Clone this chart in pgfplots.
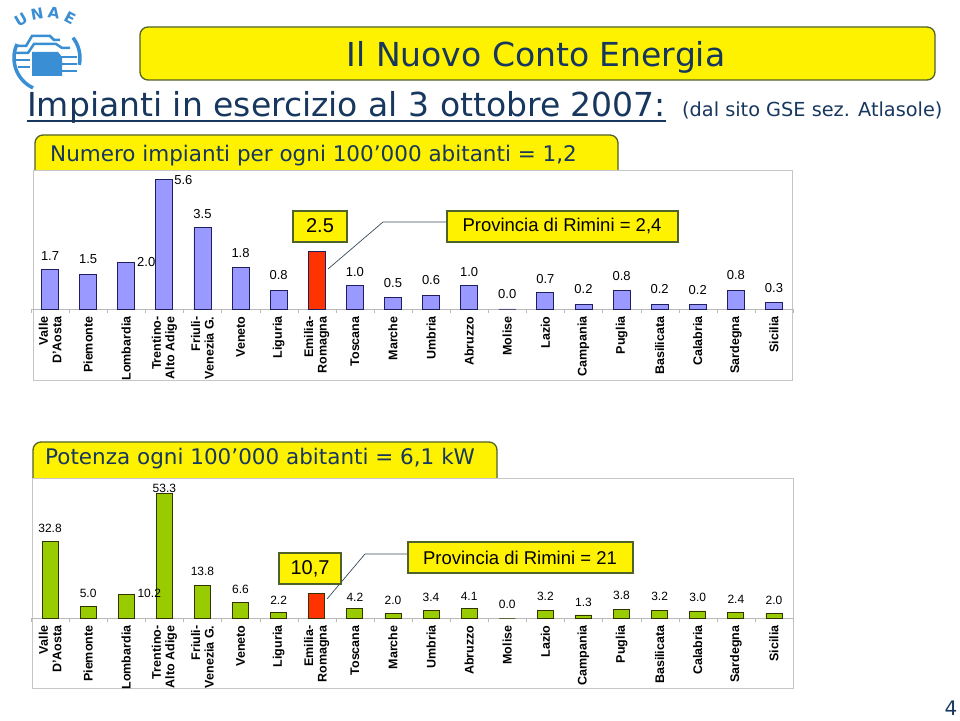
\documentclass[border=0pt]{standalone}
\usepackage{fontspec}
\setmainfont{Liberation Sans}
\newfontfamily\verd{DejaVu Sans}
\usepackage{pgfplots}
\usepackage{pgfplotstable}
\pgfplotsset{compat=1.18}

\definecolor{navy}{HTML}{17375E}
\definecolor{boxline}{HTML}{4F6228}
\definecolor{lilac}{HTML}{9999FF}
\definecolor{lilacb}{HTML}{1F1F5F}
\definecolor{lime}{HTML}{99CC00}
\definecolor{limeb}{HTML}{333300}
\definecolor{rosso}{HTML}{FF3300}
\definecolor{logoblue}{HTML}{3A8ED4}
\definecolor{callout}{HTML}{3A4A5A}

% numero impianti per 100000 abitanti (Emilia-Romagna a parte)
\pgfplotstableread{
x y dx dy
0 1.7 0 14
1 1.5 0 15
2 2.0 20 1
3 5.6 19 -1
4 3.5 0 14
5 1.8 0 14
6 0.8 0 15
8 1.0 0 14
9 0.5 0 14
10 0.6 0 15
11 1.0 0 14
12 0.0 0 15
13 0.7 0 14
14 0.2 0 15
15 0.8 0 14
16 0.2 0 15
17 0.2 0 14
18 0.8 0 15
19 0.3 0 14
}\impianti

% potenza (kW) per 100000 abitanti
\pgfplotstableread{
x y dx dy
0 32.8 0 13
1 5.0 0 13
2 10.2 23 1
3 53.3 0 5
4 13.8 0 14
5 6.6 0 13
6 2.2 0 13
8 4.2 0 11
9 2.0 0 13
10 3.4 0 13
11 4.1 0 12
12 0.0 0 14
13 3.2 0 14
14 1.3 0 13
15 3.8 0 14
16 3.2 0 14
17 3.0 0 14
18 2.4 0 13
19 2.0 0 13
}\potenza

\pgfplotsset{regioni/.style={
  scale only axis, width=762pt,
  xmin=-0.5, xmax=19.5, ymin=0,
  axis x line*=bottom, axis y line=none, clip=false,
  x axis line style={gray!55, line width=0.6pt},
  xtick={0,...,19},
  xticklabels={{Valle\\D'Aosta},Piemonte,Lombardia,{Trentino-\\Alto Adige},{Friuli-\\Venezia G.},Veneto,Liguria,{Emilia-\\Romagna},Toscana,Marche,Umbria,Abruzzo,Molise,Lazio,Campania,Puglia,Basilicata,Calabria,Sardegna,Sicilia},
  major tick length=0pt,
  minor xtick={-0.5,0.5,...,19.5},
  minor tick length=4pt, tick align=outside,
  minor tick style={gray!55},
  xticklabel shift=4pt,
  xticklabel style={rotate=90, anchor=east, align=right,
    font=\bfseries\fontsize{12.5}{13.5}\selectfont, text=black},
  ytick=\empty,
}}

\begin{document}
\begin{tikzpicture}[x=1pt,y=1pt]
\path[use as bounding box] (0,0) rectangle (960,720);

% logo UNAE
\begin{scope}[logoblue]
  \draw[line width=3.5pt] (47,662) ++(155:33) arc[start angle=155, end angle=245, radius=33];
  \draw[line width=3.5pt] (47,662) ++(38:33) arc[start angle=38, end angle=-12, radius=33];
  \node[font=\verd\bfseries\fontsize{15}{15}\selectfont, rotate=30] at (21,700) {U};
  \node[font=\verd\bfseries\fontsize{15}{15}\selectfont, rotate=10] at (37,706) {N};
  \node[font=\verd\bfseries\fontsize{15}{15}\selectfont, rotate=-8] at (54,707) {A};
  \node[font=\verd\bfseries\fontsize{15}{15}\selectfont, rotate=-28] at (70,702) {E};
  \draw[line width=2.5pt] (16,674)--(26,674)--(32,684)--(50,684)--(54,680)--(60,680);
  \draw[line width=2.5pt] (16,667)--(28,667)--(34,676)--(56,676)--(62,672)--(70,672);
  \draw[line width=2.5pt] (16,660)--(30,660);
  \draw[line width=2.5pt] (18,653)--(30,653);
  \fill (32,668) -- (58,668) -- (62,663) -- (62,644) -- (32,644) -- cycle;
  \draw[line width=2.5pt] (60,663)--(77,663);
  \draw[line width=2.5pt] (60,656)--(77,656);
  \draw[line width=2.5pt] (60,649)--(77,649);
\end{scope}

% titolo
\draw[boxline, line width=1.3pt, fill=yellow, rounded corners=8pt] (140,693) rectangle (935,640);
\node[anchor=base, text=navy, font=\verd\fontsize{33}{36}\selectfont, inner sep=0pt] at (536,653) {Il Nuovo Conto Energia};
\node[anchor=base west, text=navy, font=\verd\fontsize{33}{36}\selectfont, inner sep=0pt] (sub) at (27,603) {Impianti in esercizio al 3 ottobre 2007:};
\draw[navy, line width=1.6pt] (27,599) -- (sub.east |- 0,599);
\node[anchor=base west, text=navy, font=\verd\fontsize{19.3}{22}\selectfont, inner sep=0pt] at (682,603) {(dal sito GSE sez. Atlasole)};
\node[anchor=base, text=navy, font=\verd\fontsize{20}{22}\selectfont, inner sep=0pt] at (951,5) {4};

% riquadri gialli dei due grafici
\draw[boxline, line width=1.3pt, fill=yellow, rounded corners=8pt] (35,585) rectangle (618,530);
\node[anchor=base west, text=navy, font=\verd\fontsize{21.5}{24}\selectfont, inner sep=0pt] at (50,558) {Numero impianti per ogni 100’000 abitanti = 1,2};
\draw[boxline, line width=1.3pt, fill=yellow, rounded corners=8pt] (33,278) rectangle (497,232);
\node[anchor=base west, text=navy, font=\verd\fontsize{21.5}{24}\selectfont, inner sep=0pt] at (45,255) {Potenza ogni 100’000 abitanti = 6,1 kW};

% cornici
\draw[gray!45, fill=white, line width=0.8pt] (33,550) rectangle (792,340);
\draw[gray!45, fill=white, line width=0.8pt] (32,242) rectangle (793,32);

% grafico 1
\begin{axis}[regioni, at={(31pt,411pt)}, anchor=south west, height=139pt, ymax=5.99]
  \addplot[ybar, bar shift=0pt, bar width=17pt, fill=lilac, draw=lilacb, line width=0.8pt,
    visualization depends on={\thisrow{dx}\as\dx},
    visualization depends on={\thisrow{dy}\as\dy},
    nodes near coords={\pgfmathprintnumber[fixed,fixed zerofill,precision=1,assume math mode=true]{\pgfplotspointmeta}},
    every node near coord/.append style={anchor=center, xshift=\dx pt, yshift=\dy pt,
      font=\fontsize{13}{14}\selectfont, text=black}]
    table[x=x, y=y] {\impianti};
  \addplot[ybar, bar shift=0pt, bar width=17pt, fill=rosso, draw=lilacb, line width=0.8pt]
    coordinates {(7,2.5)};
\end{axis}

% grafico 2
\begin{axis}[regioni, at={(31pt,102pt)}, anchor=south west, height=140pt, ymax=59.7]
  \addplot[ybar, bar shift=0pt, bar width=16pt, fill=lime, draw=limeb, line width=0.8pt,
    visualization depends on={\thisrow{dx}\as\dx},
    visualization depends on={\thisrow{dy}\as\dy},
    nodes near coords={\pgfmathprintnumber[fixed,fixed zerofill,precision=1,assume math mode=true]{\pgfplotspointmeta}},
    every node near coord/.append style={anchor=center, xshift=\dx pt, yshift=\dy pt,
      font=\fontsize{12}{13}\selectfont, text=black}]
    table[x=x, y=y] {\potenza};
  \addplot[ybar, bar shift=0pt, bar width=16pt, fill=rosso, draw=limeb, line width=0.8pt]
    coordinates {(7,10.7)};
\end{axis}

% richiami
\draw[callout, line width=0.7pt] (328,451) -- (383,498) -- (447,498);
\draw[boxline, line width=1.2pt, fill=yellow] (293,509) rectangle (347,478);
\node[font=\fontsize{20}{22}\selectfont] at (320,494) {2.5};
\draw[boxline, line width=1.2pt, fill=yellow] (447,509) rectangle (678,478);
\node[font=\fontsize{18.5}{20}\selectfont] at (562,494) {Provincia di Rimini = 2,4};

\draw[callout, line width=0.7pt] (327,121) -- (365,166) -- (408,166);
\draw[boxline, line width=1.2pt, fill=yellow] (279,167) rectangle (341,136);
\node[font=\fontsize{20}{22}\selectfont] at (310,151) {10,7};
\draw[boxline, line width=1.2pt, fill=yellow] (408,178) rectangle (633,147);
\node[font=\fontsize{18.5}{20}\selectfont] at (520,162) {Provincia di Rimini = 21};
\end{tikzpicture}
\end{document}
